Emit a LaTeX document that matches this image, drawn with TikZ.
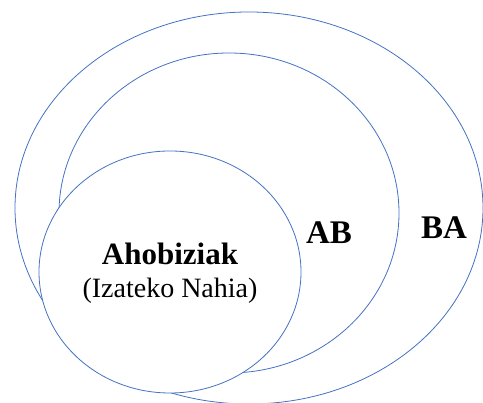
\documentclass[tikz,border=0pt]{standalone}
\usepackage{fontspec}
\setmainfont{Liberation Serif}
\usepackage{tikz}
\usetikzlibrary{shapes.geometric}
\definecolor{ring_blue}{RGB}{68,114,196}

\begin{document}
\begin{tikzpicture}[x=1pt,y=1pt]
    \tikzstyle{ring}=[draw=ring_blue, ellipse, line width=0.8pt, fill=white, inner sep=0pt]
    \tikzstyle{title}=[text=black, anchor=base, inner sep=0pt]

    \useasboundingbox (0,0) rectangle (483,403);

    \node[ring, minimum width=468, minimum height=392] (BA) at (249,195) {};
    \node[ring, minimum width=340, minimum height=320] (AB) at (229,190) {};
    \node[ring, minimum width=262, minimum height=242] (Aho) at (170,131) {};

    \node[title] (Ahot)  at (170,138) {\fontsize{31}{35}\selectfont\bfseries Ahobiziak};
    \node[title] (Nahia) at (170,105) {\fontsize{28}{32}\selectfont (Izateko Nahia)};
    \node[title] (ABt)   at (329,159) {\fontsize{33}{38}\selectfont\bfseries AB};
    \node[title] (BAt)   at (444,164) {\fontsize{33}{38}\selectfont\bfseries BA};
\end{tikzpicture}
\end{document}
